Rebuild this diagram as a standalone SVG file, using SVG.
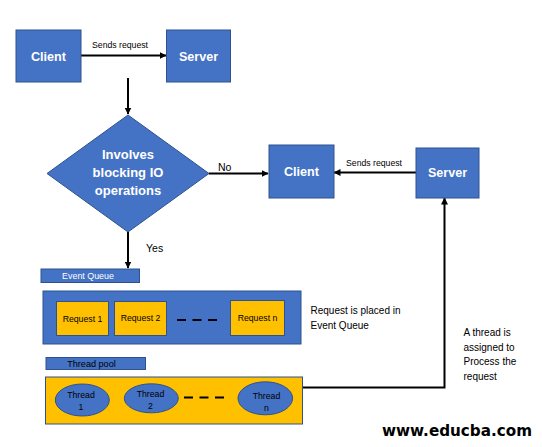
<svg xmlns="http://www.w3.org/2000/svg" width="542" height="447" viewBox="0 0 542 447">
<style>
.box{fill:#4472C4;stroke:#2F528F;stroke-width:1}
.ybox{fill:#FFC000;stroke:#2F528F;stroke-width:1}
.lbl{font-family:"Liberation Sans",Arial,sans-serif;}
.big{font-size:12.6px;font-weight:bold;fill:#fff;text-anchor:middle}
.dia{font-size:13px;font-weight:bold;fill:#fff;text-anchor:middle}
.sm{font-size:8.7px;fill:#000}
.mid{text-anchor:middle}
.note{font-size:10px;fill:#000}
.edge{stroke:#000;stroke-width:2;fill:none}
.dash{stroke:#000;stroke-width:2;stroke-dasharray:9 6.5;fill:none}
</style>
<defs>
<marker id="ah" markerUnits="userSpaceOnUse" markerWidth="7" markerHeight="7" refX="6.5" refY="3.5" orient="auto">
<path d="M0,0 L7,3.5 L0,7 z" fill="#000"/>
</marker>
</defs>
<rect width="542" height="447" fill="#fff"/>
<g id="connectors">
<line class="edge" x1="81" y1="55.5" x2="166" y2="55.5" marker-end="url(#ah)"/>
<text class="lbl sm" x="92" y="48">Sends request</text>
<line class="edge" x1="128" y1="78" x2="128" y2="114" marker-end="url(#ah)"/>
<line class="edge" x1="209" y1="173.5" x2="268" y2="173.5" marker-end="url(#ah)"/>
<text class="lbl" x="218" y="171" font-size="10.5">No</text>
<line class="edge" x1="128" y1="232" x2="128" y2="268" marker-end="url(#ah)"/>
<text class="lbl" x="146" y="251.5" font-size="10.5">Yes</text>
<line class="edge" x1="416" y1="172.5" x2="334" y2="172.5" marker-end="url(#ah)"/>
<text class="lbl sm" x="346" y="165.5">Sends request</text>
<path class="edge" d="M302,387.5 H444.5 V198" marker-end="url(#ah)"/>
</g>
<g id="client1">
<rect class="box" x="16" y="30" width="65" height="52"/>
<text class="lbl big" x="48.5" y="60.5">Client</text>
</g>
<g id="server1">
<rect class="box" x="166.5" y="30" width="64" height="52"/>
<text class="lbl big" x="198.5" y="60.5">Server</text>
</g>
<g id="decision">
<polygon class="box" points="128,115 209,173.5 128,232 47,173.5"/>
<text class="lbl dia" x="128" y="158.5">Involves</text>
<text class="lbl dia" x="128" y="176.5">blocking IO</text>
<text class="lbl dia" x="128" y="194.5">operations</text>
</g>
<g id="client2">
<rect class="box" x="269" y="145" width="65" height="53"/>
<text class="lbl big" x="301.5" y="176">Client</text>
</g>
<g id="server2">
<rect class="box" x="416" y="148" width="63" height="50"/>
<text class="lbl big" x="447.5" y="177">Server</text>
</g>
<g id="event-queue-label">
<rect class="box" x="41" y="269" width="98.5" height="13.5"/>
<text class="lbl mid" x="88" y="279" font-size="8.9" fill="#fff">Event Queue</text>
</g>
<g id="event-queue">
<rect class="box" x="43" y="291" width="258" height="53"/>
<rect class="ybox" x="56.5" y="301.5" width="52" height="34"/>
<text class="lbl sm mid" x="82.5" y="321.5">Request 1</text>
<rect class="ybox" x="114.5" y="301.5" width="52" height="34"/>
<text class="lbl sm mid" x="140.5" y="320.5">Request 2</text>
<line class="dash" x1="177" y1="320" x2="218" y2="320"/>
<rect class="ybox" x="230.5" y="300.5" width="54" height="35"/>
<text class="lbl sm mid" x="257.5" y="320.5">Request n</text>
</g>
<g id="note-queue">
<text class="lbl note" x="310.5" y="314">Request is placed in</text>
<text class="lbl note" x="310.5" y="329">Event Queue</text>
</g>
<g id="thread-pool-label">
<rect class="box" x="46" y="357.5" width="99.5" height="12"/>
<text class="lbl mid" x="91.5" y="367" font-size="9.1" fill="#000">Thread pool</text>
</g>
<g id="thread-pool">
<rect class="ybox" x="45.5" y="377" width="257" height="47"/>
<ellipse class="box" cx="82.3" cy="400" rx="27" ry="16"/>
<text class="lbl sm mid" x="81" y="398">Thread</text>
<text class="lbl sm mid" x="81" y="410">1</text>
<ellipse class="box" cx="151.3" cy="398.3" rx="27" ry="14.5"/>
<text class="lbl sm mid" x="150.5" y="396.5">Thread</text>
<text class="lbl sm mid" x="150.5" y="409">2</text>
<line class="dash" x1="184" y1="397.5" x2="225" y2="397.5"/>
<ellipse class="box" cx="265.3" cy="398.3" rx="27.3" ry="16.5"/>
<text class="lbl sm mid" x="266.5" y="399">Thread</text>
<text class="lbl sm mid" x="266.5" y="411">n</text>
</g>
<g id="note-thread">
<text class="lbl note" x="463.5" y="336">A thread is</text>
<text class="lbl note" x="463.5" y="350.5">assigned to</text>
<text class="lbl note" x="463.5" y="365">Process the</text>
<text class="lbl note" x="463.5" y="379.5">request</text>
</g>
<g id="watermark">
<text x="382" y="435.5" font-family="'DejaVu Sans',Verdana,sans-serif" font-weight="bold" font-size="15" textLength="150" lengthAdjust="spacingAndGlyphs" fill="#000">www.educba.com</text>
</g>
</svg>
